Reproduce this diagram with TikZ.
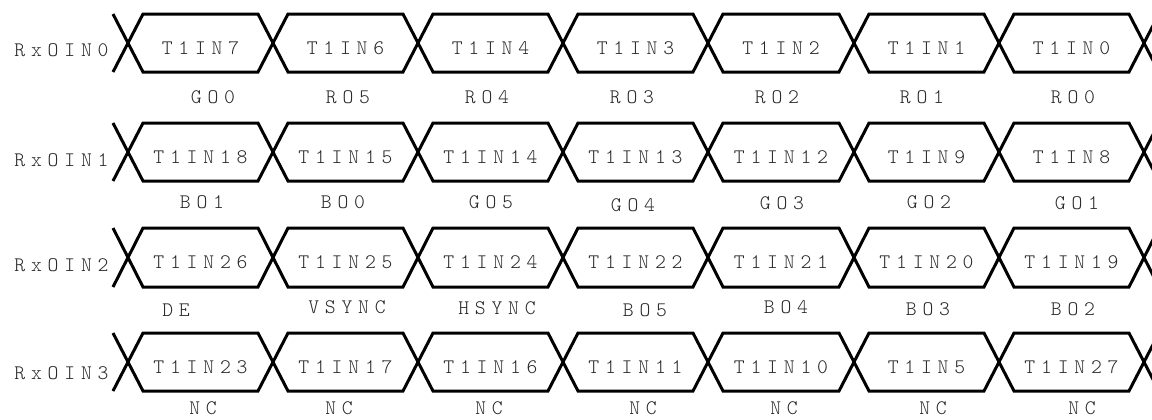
\documentclass[tikz,border=0pt]{standalone}
\usepackage{fontspec}
\newfontfamily\waveFont[LetterSpace=28]{lmmonolt10-regular.otf}

\tikzset{every picture/.style={line width=2.25pt}}
\tikzset{wave/.style={draw=black, line join=miter},
  sigtext/.style={inner sep=0.75pt, text=black!85, font=\waveFont\fontsize{15.5}{18}\selectfont}}

\begin{document}
\begin{tikzpicture}[x=0.75pt,y=0.75pt,yscale=-1,xscale=1]
\useasboundingbox (0,0) rectangle (1152,419);

%Straight Lines: bus RxOIN0
\draw [wave] (113,14) -- (143,72) -- (258,72) -- (288,14) -- (403,14) -- (433,72) -- (548,72) -- (578,14) -- (693,14) -- (723,72) -- (839,72) -- (869,14) -- (984,14) -- (1014,72) -- (1129,72) -- (1159,14) ;
\draw [wave] (113,72) -- (143,14) -- (258,14) -- (288,72) -- (403,72) -- (433,14) -- (548,14) -- (578,72) -- (693,72) -- (723,14) -- (839,14) -- (869,72) -- (984,72) -- (1014,14) -- (1129,14) -- (1159,72) ;
%Straight Lines: bus RxOIN1
\draw [wave] (113,123) -- (143,181) -- (258,181) -- (288,123) -- (403,123) -- (433,181) -- (548,181) -- (578,123) -- (693,123) -- (723,181) -- (839,181) -- (869,123) -- (984,123) -- (1014,181) -- (1129,181) -- (1159,123) ;
\draw [wave] (113,181) -- (143,123) -- (258,123) -- (288,181) -- (403,181) -- (433,123) -- (548,123) -- (578,181) -- (693,181) -- (723,123) -- (839,123) -- (869,181) -- (984,181) -- (1014,123) -- (1129,123) -- (1159,181) ;
%Straight Lines: bus RxOIN2
\draw [wave] (113,228) -- (143,287) -- (258,287) -- (288,228) -- (403,228) -- (433,287) -- (548,287) -- (578,228) -- (693,228) -- (723,287) -- (839,287) -- (869,228) -- (984,228) -- (1014,287) -- (1129,287) -- (1159,228) ;
\draw [wave] (113,287) -- (143,228) -- (258,228) -- (288,287) -- (403,287) -- (433,228) -- (548,228) -- (578,287) -- (693,287) -- (723,228) -- (839,228) -- (869,287) -- (984,287) -- (1014,228) -- (1129,228) -- (1159,287) ;
%Straight Lines: bus RxOIN3
\draw [wave] (113,333) -- (143,391) -- (258,391) -- (288,333) -- (403,333) -- (433,391) -- (548,391) -- (578,333) -- (693,333) -- (723,391) -- (839,391) -- (869,333) -- (984,333) -- (1014,391) -- (1129,391) -- (1159,333) ;
\draw [wave] (113,391) -- (143,333) -- (258,333) -- (288,391) -- (403,391) -- (433,333) -- (548,333) -- (578,391) -- (693,391) -- (723,333) -- (839,333) -- (869,391) -- (984,391) -- (1014,333) -- (1129,333) -- (1159,391) ;

% Text Node: row names
\draw (111,50) node (rx0) [anchor=east] [sigtext] {RxOIN0};
\draw (111,160) node (rx1) [anchor=east] [sigtext] {RxOIN1};
\draw (111,265) node (rx2) [anchor=east] [sigtext] {RxOIN2};
\draw (111,373) node (rx3) [anchor=east] [sigtext] {RxOIN3};

% Text Node: bits of RxOIN0
\draw (200.5,48) node (b07) [sigtext] {T1IN7};
\draw (345.5,48) node (b06) [sigtext] {T1IN6};
\draw (490.5,48) node (b04) [sigtext] {T1IN4};
\draw (635.5,48) node (b03) [sigtext] {T1IN3};
\draw (781,48) node (b02) [sigtext] {T1IN2};
\draw (926.5,48) node (b01) [sigtext] {T1IN1};
\draw (1071.5,48) node (b00) [sigtext] {T1IN0};
\draw (213,97) node (g00) [sigtext] {GO0};
\draw (348,97) node (r05) [sigtext] {RO5};
\draw (487,97) node (r04) [sigtext] {RO4};
\draw (632,97) node (r03) [sigtext] {RO3};
\draw (777,97) node (r02) [sigtext] {RO2};
\draw (922,97) node (r01) [sigtext] {RO1};
\draw (1073,97) node (r00) [sigtext] {RO0};

% Text Node: bits of RxOIN1
\draw (200.5,157) node (b18) [sigtext] {T1IN18};
\draw (345.5,157) node (b15) [sigtext] {T1IN15};
\draw (490.5,157) node (b14) [sigtext] {T1IN14};
\draw (635.5,157) node (b13) [sigtext] {T1IN13};
\draw (781,157) node (b12) [sigtext] {T1IN12};
\draw (926.5,157) node (b09) [sigtext] {T1IN9};
\draw (1071.5,157) node (b08) [sigtext] {T1IN8};
\draw (202,202) node (bo1) [sigtext] {BO1};
\draw (343,202) node (bo0) [sigtext] {BO0};
\draw (491,202) node (go5) [sigtext] {GO5};
\draw (633,205) node (go4) [sigtext] {GO4};
\draw (782,203) node (go3) [sigtext] {GO3};
\draw (929,202) node (go2) [sigtext] {GO2};
\draw (1077,203) node (go1) [sigtext] {GO1};

% Text Node: bits of RxOIN2
\draw (200.5,262) node (b26) [sigtext] {T1IN26};
\draw (345.5,262) node (b25) [sigtext] {T1IN25};
\draw (490.5,262) node (b24) [sigtext] {T1IN24};
\draw (635.5,262) node (b22) [sigtext] {T1IN22};
\draw (781,262) node (b21) [sigtext] {T1IN21};
\draw (926.5,262) node (b20) [sigtext] {T1IN20};
\draw (1071.5,262) node (b19) [sigtext] {T1IN19};
\draw (176,310) node (de) [sigtext] {DE};
\draw (347,307) node (vsync) [sigtext] {VSYNC};
\draw (497,308) node (hsync) [sigtext] {HSYNC};
\draw (645,310) node (bo5) [sigtext] {BO5};
\draw (786,307) node (bo4) [sigtext] {BO4};
\draw (928,309) node (bo3) [sigtext] {BO3};
\draw (1073,309) node (bo2) [sigtext] {BO2};

% Text Node: bits of RxOIN3
\draw (200.5,367) node (b23) [sigtext] {T1IN23};
\draw (345.5,367) node (b17) [sigtext] {T1IN17};
\draw (490.5,367) node (b16) [sigtext] {T1IN16};
\draw (635.5,367) node (b11) [sigtext] {T1IN11};
\draw (781,367) node (b10) [sigtext] {T1IN10};
\draw (926.5,367) node (b05) [sigtext] {T1IN5};
\draw (1071.5,367) node (b27) [sigtext] {T1IN27};
\draw (203,408) node (nc0) [sigtext] {NC};
\draw (339,408) node (nc1) [sigtext] {NC};
\draw (489,408) node (nc2) [sigtext] {NC};
\draw (643,408) node (nc3) [sigtext] {NC};
\draw (784,408) node (nc4) [sigtext] {NC};
\draw (933,408) node (nc5) [sigtext] {NC};
\draw (1082,408) node (nc6) [sigtext] {NC};

\end{tikzpicture}
\end{document}
